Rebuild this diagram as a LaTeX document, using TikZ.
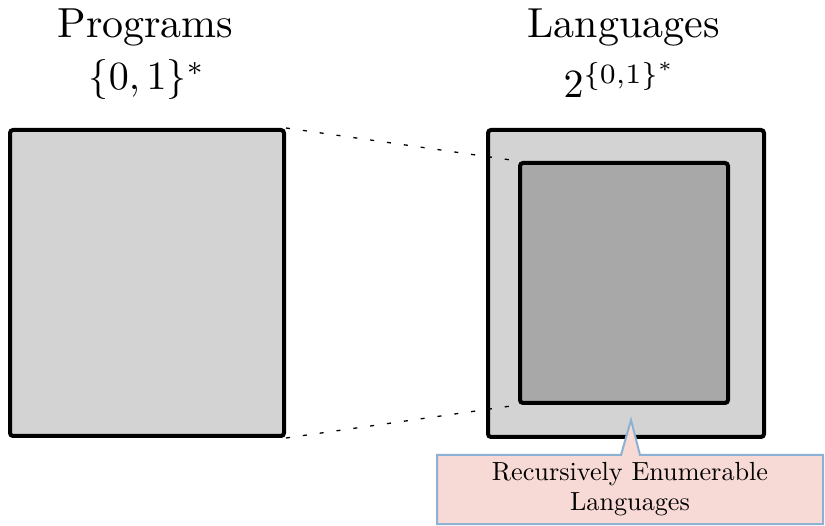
\documentclass[tikz,border=0pt]{standalone}
\usepackage{graphicx}
\usetikzlibrary{shapes.callouts}
\definecolor{boxgray}{HTML}{D3D3D3}
\definecolor{innergray}{HTML}{A8A8A8}
\definecolor{calloutfill}{HTML}{F7D9D5}
\definecolor{calloutline}{HTML}{8DB1D3}
\newcommand{\headtext}[2]{\scalebox{#1}{#2}}
\begin{document}
\begin{tikzpicture}[x=1pt,y=-1pt,
  setbox/.style={draw=black, line width=4pt, rounded corners=3pt, inner sep=0pt},
  title/.style={inner sep=0pt, anchor=base},
  link/.style={line width=1.3pt, dash pattern=on 4pt off 13pt}]
\useasboundingbox (0,0) rectangle (825,526);
% program space and language space
\node[setbox, fill=boxgray, minimum width=274pt, minimum height=306pt] (prog) at (147,283) {};
\node[setbox, fill=boxgray, minimum width=276pt, minimum height=307pt] (lang) at (626,283.5) {};
\node[setbox, fill=innergray, minimum width=208pt, minimum height=240pt] (re) at (624,283) {};
% correspondence lines
\draw[link] (prog.north east) -- (re.north west);
\draw[link] (prog.south east) -- (re.south west);
% headings
\node[title] (progname) at (145.5,38) {\headtext{4.2}{Programs}};
\node[title] (progset) at (147,90) {\headtext{4.0}{$\{0,1\}^*$}};
\node[title] (langname) at (623.5,38) {\headtext{4.2}{Languages}};
\node[title] (langset) at (620,98) {\headtext{4.0}{$2^{\{0,1\}^*}$}};
% label for the inner set
\node[rectangle callout, draw=calloutline, fill=calloutfill, line width=2pt,
      minimum width=386pt, minimum height=69pt, inner sep=0pt,
      callout absolute pointer={(631,420)}, callout pointer width=19pt]
  (relabel) at (630,489.5)
  {\headtext{2.62}{\renewcommand{\arraystretch}{0.95}\begin{tabular}{@{}c@{}}Recursively Enumerable\\Languages\end{tabular}}};
\end{tikzpicture}
\end{document}
